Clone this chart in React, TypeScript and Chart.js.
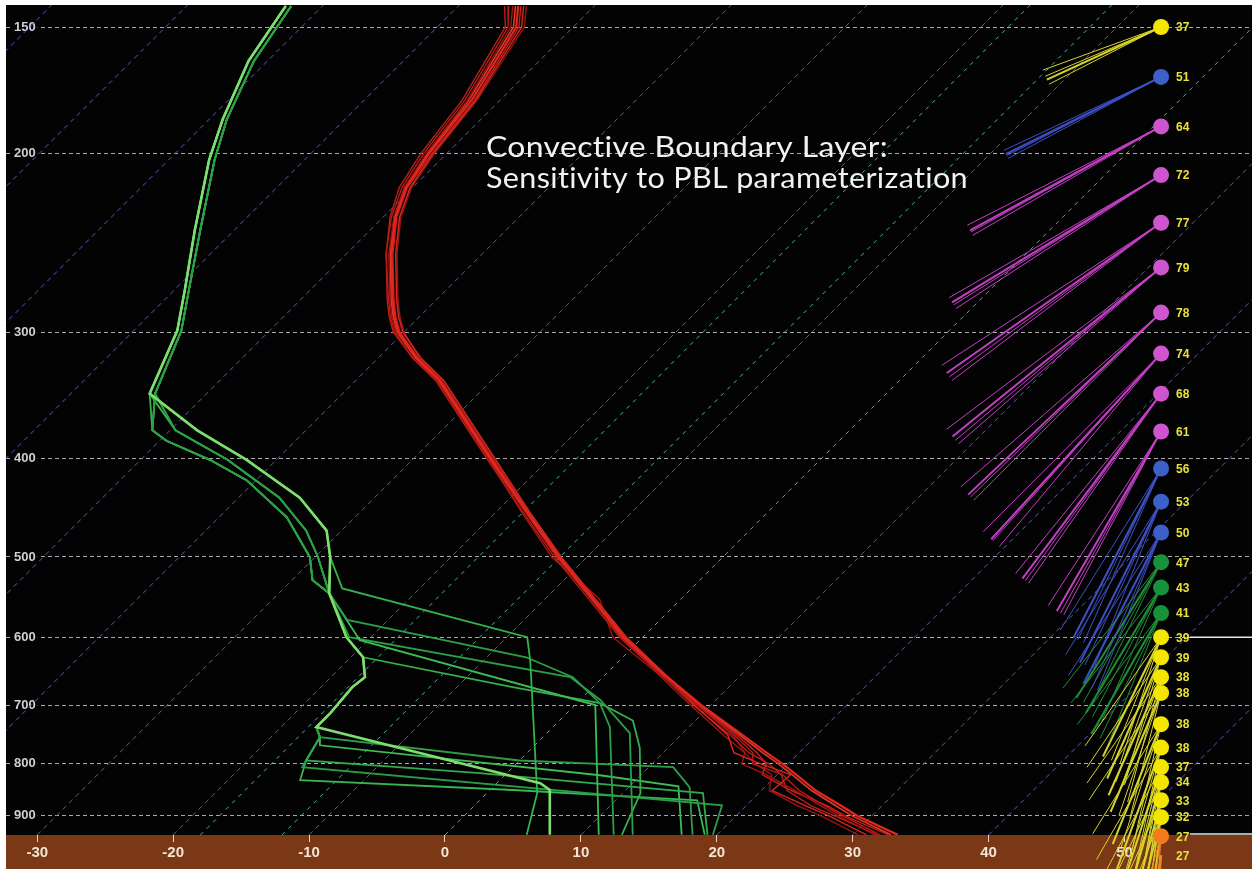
import React, { useEffect, useRef } from "react";
import { Chart, registerables } from "chart.js";

Chart.register(...registerables);

// ---------- axis ranges (skew-T, log-pressure) ----------
const P_TOP = 142.68;
const P_BOT = 940.4;
const X_MIN = -32.3;
const X_MAX = 59.38;
const SKEW = 32.38; // degC of skew per unit of ln(p)

const pressureTicks = [150, 200, 300, 400, 500, 600, 700, 800, 900];
const tempTicks = [-30, -20, -10, 0, 10, 20, 30, 40, 50];
const isotherms = [-110, -100, -90, -80, -70, -60, -50, -40, -30, -20, -10, 10, 20, 30, 40, 50];
const growthZoneIsotherms = [-18, -12, 0];

// ---------- temperature ensemble (hPa / degC) ----------
const tempLevels = [143, 150, 177, 200, 216, 231, 251, 279, 290, 300, 318, 335, 400, 450, 500, 550, 600, 650, 700, 750, 780, 800, 820, 850, 880, 900, 940];
const temp1 = [-55.6, -54.2, -52.1, -51.3, -50.5, -49.1, -46.7, -43.2, -41.8, -40.4, -37.2, -33.8, -24.3, -17.9, -12.1, -6.5, -1.4, 4.0, 9.3, 14.6, 17.6, 19.6, 21.4, 24.0, 27.0, 28.9, 33.3];
const temp2 = [-56.3, -54.8, -52.6, -51.7, -50.8, -49.4, -47.1, -43.6, -42.2, -40.8, -37.5, -34.1, -24.6, -18.2, -12.4, -6.8, -1.7, 3.7, 9.0, 14.0, 16.6, 17.4, 20.4, 22.8, 25.8, 27.8, 32.0];
const temp3 = [-55.2, -53.8, -51.8, -51.0, -50.2, -48.8, -46.4, -42.9, -41.5, -40.1, -36.9, -33.5, -24.0, -17.7, -11.9, -6.3, -1.2, 4.1, 8.8, 13.5, 15.2, 18.0, 21.0, 20.8, 24.4, 26.8, 31.0];
const temp4 = [-56.0, -54.6, -52.4, -51.5, -50.6, -49.2, -46.9, -43.4, -42.0, -40.6, -37.5, -34.0, -24.5, -18.3, -12.6, -6.0, -2.2, 3.6, 8.5, 13.2, 16.0, 16.6, 19.2, 22.5, 25.5, 27.5, 31.6];
const temp5 = [-55.4, -54.0, -51.9, -51.1, -50.4, -49.0, -46.6, -43.1, -41.7, -40.3, -37.1, -33.7, -24.2, -17.8, -12.0, -6.4, -1.3, 4.0, 9.1, 14.2, 16.9, 18.4, 18.9, 22.2, 26.0, 28.0, 32.6];
const temp6 = [-56.6, -55.0, -52.8, -51.9, -51.0, -49.5, -47.1, -43.5, -42.1, -40.7, -37.5, -34.0, -24.5, -18.0, -12.2, -6.6, -1.6, 3.8, 8.7, 13.7, 16.3, 18.6, 20.3, 21.9, 24.8, 27.2, 31.8];
const temp7 = [-55.8, -54.4, -52.3, -51.4, -50.6, -49.2, -46.8, -43.3, -41.9, -40.5, -37.3, -33.9, -24.4, -18.0, -12.2, -6.6, -1.5, 3.9, 9.2, 14.4, 17.3, 19.3, 21.1, 23.7, 26.6, 28.5, 32.8];
const temp8 = [-55.0, -53.6, -51.7, -50.9, -50.1, -48.7, -46.3, -42.8, -41.4, -40.0, -37.0, -33.6, -24.1, -17.8, -12.0, -6.4, -1.3, 4.1, 9.0, 13.9, 16.0, 17.6, 19.6, 20.6, 23.8, 26.2, 30.4];
const tempMembers = [temp1, temp2, temp3, temp4, temp5, temp6, temp7, temp8];

// ---------- dewpoint ensemble ([hPa, degC]) ----------
const dewUpper = [[143, -72.7], [162, -71.4], [185, -69.0], [203, -67.0], [238, -62.9], [273, -59.2], [299, -56.8], [345, -54.2]];
const dewUpper2 = [[143, -72.3], [162, -71.0], [185, -68.7], [203, -66.6], [238, -62.5], [273, -58.9], [299, -56.5], [345, -53.8]];
const dewEast = [[375, -48.0], [401, -42.2], [437, -35.5], [471, -31.1], [500, -28.9]];
const dewWest = [[375, -51.3], [384, -49.5], [401, -44.9], [420, -40.7], [457, -35.0], [500, -30.4], [527, -28.5]];
const dewMid = [[375, -49.6], [401, -43.6], [437, -37.0], [471, -32.6], [500, -29.8]];
const dewLower = [[543, -26.3], [600, -21.8], [628, -19.1], [657, -17.5], [672, -17.7], [713, -17.4], [736, -17.4], [753, -16.4], [794, -15.7]];

const dewTail1 = [[537, -25.7], [600, -8.5], [632, -6.6], [682, -4.0], [855, 3.7], [940, 6.0]];
const dewTail2 = [[577, -23.0], [628, -7.1], [657, -2.2], [697, 1.7], [736, 4.2], [940, 12.4]];
const dewTail3 = [[604, -20.6], [700, 1.5], [940, 11.3]];
const dewTail4 = [[600, -21.6], [657, -2.4], [692, 1.5], [746, 6.1], [940, 13.8]];
const dewTail5 = [[672, -5.9], [697, 1.7], [725, 5.4], [771, 7.9], [855, 11.3], [940, 13.0]];
const dewTail6 = [[794, 0.0], [806, 11.8], [844, 14.5], [940, 18.2]];
const dewTail7 = [[817, -2.0], [855, 15.9], [940, 19.3]];
const dewTail8 = [[806, -15.5], [879, 18.2], [940, 19.7]];
const dewTail9 = [[830, -14.7], [849, 1.7], [869, 16.0], [940, 19.1]];
const dewTail10 = [[836, 3.2], [849, 4.4], [940, 7.7]];
const dewTail11 = [[767, -15.8], [821, 7.0], [842, 13.6], [940, 17.4]];

// member = upper part, mid-level branch, deepest shared level, boundary-layer tail
const dewMembers = [
  { upper: dewUpper, branch: dewEast, lowerTo: 0, tail: dewTail1 },
  { upper: dewUpper2, branch: dewWest, lowerTo: 543, tail: dewTail2 },
  { upper: dewUpper, branch: dewEast, lowerTo: 543, tail: dewTail3 },
  { upper: dewUpper2, branch: dewMid, lowerTo: 543, tail: dewTail4 },
  { upper: dewUpper, branch: dewWest, lowerTo: 628, tail: dewTail5 },
  { upper: dewUpper2, branch: dewMid, lowerTo: 753, tail: dewTail6 },
  { upper: dewUpper, branch: dewEast, lowerTo: 794, tail: dewTail7 },
  { upper: dewUpper2, branch: dewWest, lowerTo: 794, tail: dewTail8 },
  { upper: dewUpper, branch: dewMid, lowerTo: 794, tail: dewTail9 },
  { upper: dewUpper, branch: dewEast, lowerTo: 736, tail: dewTail10 },
  { upper: dewUpper2, branch: dewWest, lowerTo: 753, tail: dewTail11 },
];

// ---------- winds ----------
const windP = [150, 168, 188, 210, 234, 259, 287, 315, 345, 376, 409, 441, 473, 506, 536, 568, 600, 628, 657, 681, 731, 771, 806, 834, 869, 903, 943, 985];
const windSpd = [37, 51, 64, 72, 77, 79, 78, 74, 68, 61, 56, 53, 50, 47, 43, 41, 39, 39, 38, 38, 38, 38, 37, 34, 33, 32, 27, 27];
const windAngA = [24.7, 26.4, 28.5, 31.3, 35.0, 39.0, 43.3, 47.5, 53.1, 59.8, 62.6, 63.2, 62.8, 58, 59, 60, 64, 66, 66, 67, 68, 70, 72, 74, 75, 76, 80, 84];
const windAngB = [20, 25, 27, 30, 33, 37, 41, 45, 51, 57, 58, 58, 57, 52, 52, 53, 55, 56, 55, 56, 58, 60, 62, 64, 66, 68, 74, 78];
const windAngC = [27, 28, 30, 33, 37, 41, 45, 50, 55, 62, 66, 68, 68, 64, 66, 68, 72, 74, 75, 76, 77, 78, 80, 82, 83, 84, 86, 88];
const windAngD = [23, 27, 29, 32, 36, 40, 44, 48, 54, 61, 64, 65, 66, 61, 62, 64, 68, 70, 70, 71, 72, 74, 76, 78, 79, 80, 82, 86];
const markerLevels = [600, 938];

const titleLines = ["Convective Boundary Layer:", "Sensitivity to PBL parameterization"];

// ---------- layout / style constants ----------
const WIND_X = 52.69;
const MARKER_X = 54.8;
const KT_X = 0.25;
const KT_LN = 0.00773;
const TITLE_X = 486;
const TITLE_Y = [157, 188];
const TITLE_W = [402, 482];

const FONT = "'Liberation Sans', Arial, sans-serif";
const circleColors: Record<string, string> = { o: "#f47a1c", y: "#f3e600", g: "#17923a", b: "#3d5fca", m: "#cf55cf" };
const stickColors: Record<string, string> = { o: "#f08a20", y: "#d6d42c", g: "#1f8f35", b: "#3c50c4", m: "#c23fc4" };
const redColors = ["#e3261e", "#b81a16", "#d42a22", "#a31512", "#cc1f1a", "#b52019", "#e03a2c", "#9c1411"];
const redWidths = [2.2, 1.4, 1.4, 1.4, 1.4, 1.4, 1.6, 1.4];
const greenColors = ["#35b24c", "#2c9f47", "#3bbd53", "#2aa146", "#36b04e", "#2e9d48", "#32aa4c", "#2b9b47", "#38b651", "#7edd6c", "#3dbd55"];
const greenWidths = [1.8, 1.8, 1.8, 1.8, 1.8, 1.8, 1.8, 1.8, 1.8, 2.6, 1.8];

const sk = (T: number, p: number) => ({ x: T + SKEW * Math.log(P_BOT / p), y: p });
const windClass = (s: number) => (s < 30 ? "o" : s < 40 ? "y" : s < 50 ? "g" : s < 60 ? "b" : "m");

function buildDatasets() {
  const ds: any[] = [];
  const line = (data: any[], color: string, width: number, order: number, extra: any = {}) => ({
    data,
    showLine: true,
    borderColor: color,
    borderWidth: width,
    pointRadius: 0,
    tension: 0,
    order,
    ...extra,
  });

  // wind circles (on top)
  ds.push({
    data: windP.map((p) => ({ x: WIND_X, y: p })),
    showLine: false,
    pointRadius: 8,
    pointBorderWidth: 0,
    pointBackgroundColor: windSpd.map((s) => circleColors[windClass(s)]),
    order: 0,
    clip: false,
  });

  // wind sticks
  const angSets = [windAngB, windAngC, windAngD, windAngA];
  const widths = [1, 1, 1, 2];
  angSets.forEach((angs, k) => {
    windP.forEach((p, i) => {
      const th = (angs[i] * Math.PI) / 180;
      const s = windSpd[i];
      const end = { x: WIND_X - s * KT_X * Math.cos(th), y: p * Math.exp(s * KT_LN * Math.sin(th)) };
      ds.push(line([{ x: WIND_X, y: p }, end], stickColors[windClass(s)], widths[k], 1, { clip: false }));
    });
  });

  // white markers
  markerLevels.forEach((p) => {
    ds.push(line([{ x: MARKER_X, y: p }, { x: X_MAX, y: p }], "#e6e6e6", 1.5, 1, { clip: false }));
  });

  // dewpoint members
  dewMembers.forEach((m, i) => {
    const lastBranchP = m.branch[m.branch.length - 1][0];
    const pts = [
      ...m.upper,
      ...m.branch,
      ...dewLower.filter(([p]) => p > lastBranchP && p <= m.lowerTo),
      ...m.tail,
    ];
    ds.push(line(pts.map(([p, t]) => sk(t, p)), greenColors[i], greenWidths[i], i === 9 ? 2 : 3));
  });

  // temperature members
  tempMembers.forEach((arr, i) => {
    ds.push(line(tempLevels.map((p, j) => sk(arr[j], p)), redColors[i], redWidths[i], i === 0 ? 3 : 4));
  });

  // isotherms
  isotherms.forEach((T) => {
    ds.push(line([sk(T, P_BOT), sk(T, P_TOP)], "#5858cc", 1, 9, { borderDash: [5, 4] }));
  });
  growthZoneIsotherms.forEach((T) => {
    ds.push(line([sk(T, P_BOT), sk(T, P_TOP)], "#4fb3a3", 1, 9, { borderDash: [4, 5] }));
  });
  return ds;
}

const backgroundPlugin = {
  id: "skewBackground",
  beforeDraw(chart: any) {
    const { ctx, chartArea: a } = chart;
    ctx.save();
    ctx.fillStyle = "#030303";
    ctx.fillRect(a.left, a.top, a.right - a.left, a.bottom - a.top);
    ctx.fillStyle = "#7b3817";
    ctx.fillRect(a.left, a.bottom, a.right - a.left, chart.height - a.bottom);
    ctx.restore();
  },
};

const textPlugin = {
  id: "skewText",
  afterDatasetsDraw(chart: any) {
    const { ctx, scales } = chart;
    ctx.save();
    ctx.fillStyle = "#f2f2f2";
    ctx.font = "28px Lato, 'Open Sans', sans-serif";
    (ctx as any).letterSpacing = "0.3px";
    ctx.textBaseline = "alphabetic";
    titleLines.forEach((t, i) => {
      const w = ctx.measureText(t).width;
      ctx.save();
      ctx.translate(TITLE_X, TITLE_Y[i]);
      ctx.scale(TITLE_W[i] / w, 1);
      ctx.fillText(t, 0, 0);
      ctx.restore();
    });
    (ctx as any).letterSpacing = "0px";
    ctx.font = `bold 12px ${FONT}`;
    ctx.fillStyle = "#e8e23a";
    ctx.textBaseline = "middle";
    const lx = scales.x.getPixelForValue(WIND_X) + 15;
    windP.forEach((p, i) => {
      ctx.fillText(String(windSpd[i]), lx, scales.y.getPixelForValue(p) + 1);
    });
    ctx.restore();
  },
};

export default function App() {
  const ref = useRef<HTMLCanvasElement>(null);
  useEffect(() => {
    if (!ref.current) return;
    Chart.defaults.font.family = FONT;
    const chart = new Chart(ref.current, {
      type: "scatter",
      data: { datasets: buildDatasets() },
      options: {
        animation: false,
        responsive: false,
        maintainAspectRatio: false,
        events: [],
        layout: { autoPadding: false, padding: { left: 6, top: 5, right: 0, bottom: 0 } },
        plugins: { legend: { display: false }, tooltip: { enabled: false }, title: { display: false } },
        scales: {
          x: {
            type: "linear",
            position: "bottom",
            min: X_MIN,
            max: X_MAX,
            bounds: "data",
            afterBuildTicks: (s: any) => {
              s.ticks = tempTicks.map((v) => ({ value: v }));
            },
            afterFit: (s: any) => {
              s.height = 34;
              s.paddingLeft = 0;
              s.paddingRight = 0;
              s.paddingTop = 0;
              s.paddingBottom = 0;
            },
            grid: { display: true, drawOnChartArea: false, drawTicks: true, tickLength: 7, tickColor: "#ead2bc", tickWidth: 1 },
            border: { display: false },
            ticks: {
              color: "#f3e4d4",
              padding: 2,
              maxRotation: 0,
              autoSkip: false,
              font: { family: FONT, weight: "bold", size: 15 },
              callback: (v: any) => String(v),
            },
          },
          y: {
            type: "logarithmic",
            position: "left",
            reverse: true,
            min: P_TOP,
            max: P_BOT,
            bounds: "data",
            afterBuildTicks: (s: any) => {
              s.ticks = pressureTicks.map((v) => ({ value: v }));
            },
            afterFit: (s: any) => {
              s.width = 0;
              s.paddingLeft = 0;
              s.paddingRight = 0;
              s.paddingTop = 0;
              s.paddingBottom = 0;
            },
            grid: { display: true, drawOnChartArea: true, drawTicks: false, color: "#aaaaaa", lineWidth: 1 },
            border: { display: false, dash: [4, 3] },
            ticks: {
              mirror: true,
              padding: 8,
              color: "#d0d0d0",
              autoSkip: false,
              font: { family: FONT, weight: "bold", size: 13 },
              showLabelBackdrop: true,
              backdropColor: "#030303",
              backdropPadding: 2,
              callback: (v: any) => String(v),
            },
          },
        },
      } as any,
      plugins: [backgroundPlugin, textPlugin],
    });
    return () => chart.destroy();
  }, []);
  return (
    <div style={{ position: "fixed", left: 0, top: 0, width: 1252, height: 869 }}>
      <canvas ref={ref} width={1252} height={869} style={{ display: "block", width: 1252, height: 869 }} />
    </div>
  );
}
